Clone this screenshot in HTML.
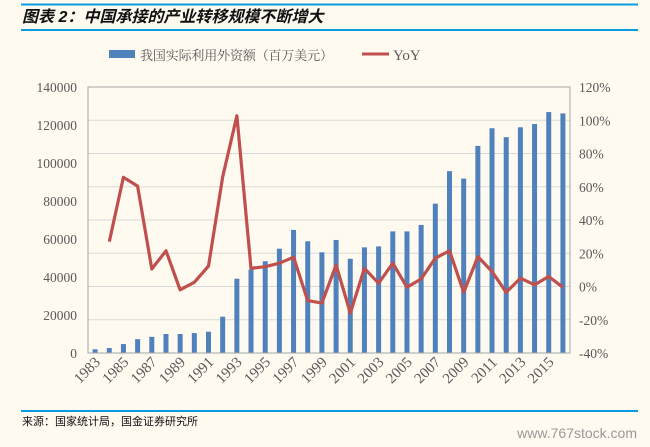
<!DOCTYPE html>
<html><head><meta charset="utf-8"><style>
body{margin:0;background:#fffaf0;}
svg{display:block;font-family:"Liberation Serif","Noto Serif CJK SC",serif;}
</style></head><body>
<svg width="650" height="447" viewBox="0 0 650 447">
<rect width="650" height="447" fill="#fffaf0"/>
<line x1="21" y1="4.5" x2="638" y2="4.5" stroke="#0a9ce0" stroke-width="2"/>
<text x="22" y="22" font-size="16" font-weight="bold" font-style="italic" fill="#111" font-family="Liberation Sans,Noto Sans CJK SC,sans-serif">图表 2：中国承接的产业转移规模不断增大</text>
<line x1="21" y1="30" x2="638" y2="30" stroke="#0a9ce0" stroke-width="2"/>
<g>
<rect x="109" y="50" width="26" height="8" fill="#4f81bd"/>
<text x="140" y="60" font-size="13" textLength="193" lengthAdjust="spacing" fill="#595959">我国实际利用外资额（百万美元）</text>
<line x1="362" y1="54" x2="389" y2="54" stroke="#c0504d" stroke-width="3"/>
<text x="393" y="60" font-size="15" fill="#595959">YoY</text>
</g>
<g id="grid"></g>
<g id="bars"></g>
<g id="line"></g>
<g id="axes"></g>
<line x1="21" y1="411" x2="638" y2="411" stroke="#0a9ce0" stroke-width="2"/>
<text x="22" y="425" font-size="11" fill="#111" font-family="Liberation Sans,Noto Sans CJK SC,sans-serif">来源：国家统计局，国金证券研究所</text>
<text x="637" y="438" font-size="14" fill="#999" text-anchor="end" font-family="Liberation Sans,sans-serif">www.767stock.com</text>
</svg>
<script>
const years=[1983,1984,1985,1986,1987,1988,1989,1990,1991,1992,1993,1994,1995,1996,1997,1998,1999,2000,2001,2002,2003,2004,2005,2006,2007,2008,2009,2010,2011,2012,2013,2014,2015,2016];
const fdi=[1950,2600,4700,7300,8500,10000,10000,10500,11200,19100,39100,43900,48300,54900,64800,58800,53000,59500,49600,55600,56100,64000,64000,67400,78600,95700,91800,109000,118300,113600,118800,120500,126800,126100];
const yoy=[null,27,65.7,60.4,10.5,21.5,-2,2.5,12.3,66,102.7,10.9,11.9,14,17.6,-8.5,-10,13,-16,10.9,1.9,14,-0.5,4.5,17,21.5,-3.5,18,9,-3.5,5,1,6,-0.5];
const leftTicks=[0,20000,40000,60000,80000,100000,120000,140000];
const rightTicks=[-40,-20,0,20,40,60,80,100,120];
const xTickYears=[1983,1985,1987,1989,1991,1993,1995,1997,1999,2001,2003,2005,2007,2009,2011,2013,2015];

const L=88,R=570,T=87,B=353,NS="http://www.w3.org/2000/svg";
const step=(R-L)/years.length;
const xc=i=>L+step*(i+0.5);
const yL=v=>B-(v/140000)*(B-T);
const yR=v=>B-((v+40)/160)*(B-T);
function mk(tag,attrs,parent){const e=document.createElementNS(NS,tag);for(const k in attrs)e.setAttribute(k,attrs[k]);parent.appendChild(e);return e;}
const grid=document.getElementById('grid'),bars=document.getElementById('bars'),line=document.getElementById('line'),axes=document.getElementById('axes');
rightTicks.forEach(t=>{
  const g=mk('line',{x1:L,x2:R,y1:yR(t),y2:yR(t),stroke:'#d9d9d9','stroke-width':1},grid);
  
  
  const tx=mk('text',{x:579,y:yR(t)+5,'font-size':13.5,fill:'#595959'},axes);
  tx.textContent=t+'%';
  
  
});
leftTicks.forEach(t=>{
  const tx=mk('text',{x:77,y:yL(t)+5,'font-size':13.5,fill:'#595959','text-anchor':'end'},axes);
  tx.textContent=t;
  
  
});
const frame=mk('rect',{x:L,y:T,width:R-L,height:B-T,fill:'none',stroke:'#a6a6a6','stroke-width':1},axes);


fdi.forEach((v,i)=>{
  const b=mk('rect',{x:xc(i)-2.5,y:yL(v),width:5,height:B-yL(v),fill:'#4f81bd'},bars);
  
  
});
let d='';
yoy.forEach((v,i)=>{if(v===null)return;d+=(d?'L':'M')+xc(i).toFixed(1)+','+yR(v).toFixed(1);});
const p=mk('path',{d:d,fill:'none',stroke:'#c0504d','stroke-width':3.2,'stroke-linejoin':'round'},line);


xTickYears.forEach(y=>{
  const i=years.indexOf(y);const x=xc(i)+6,yy=363;
  const tx=mk('text',{x:x,y:yy,'font-size':15,fill:'#595959','text-anchor':'end',transform:`rotate(-45 ${x} ${yy})`},axes);
  tx.textContent=y;
  
  
});
</script>
</body></html>
